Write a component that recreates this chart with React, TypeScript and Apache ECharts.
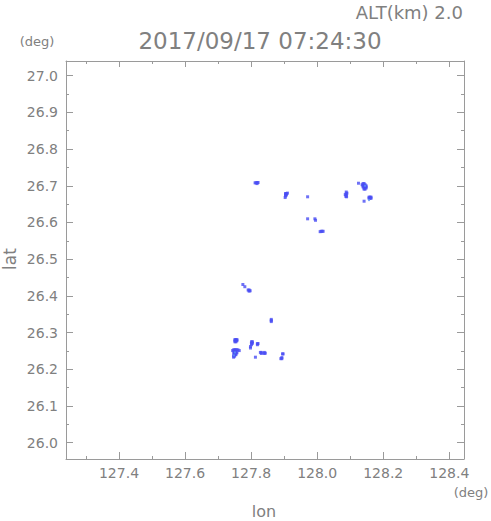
import React, { useEffect, useRef } from "react";
import * as echarts from "echarts";

const LON_MIN = 127.2395;
const LON_MAX = 128.4445;
const LAT_MIN = 25.9556;
const LAT_MAX = 27.04;

const lonMajor = [127.4, 127.6, 127.8, 128.0, 128.2, 128.4];
const lonMinor = [127.3, 127.5, 127.7, 127.9, 128.1, 128.3];
const latMajor = [26.0, 26.1, 26.2, 26.3, 26.4, 26.5, 26.6, 26.7, 26.8, 26.9, 27.0];
const latMinor = [26.05, 26.15, 26.25, 26.35, 26.45, 26.55, 26.65, 26.75, 26.85, 26.95];

const titleText = "2017/09/17 07:24:30";
const altText = "ALT(km) 2.0";

// echo pixels (lon, lat)
const echoMain: number[][] = [
  [127.812, 26.708], [127.815, 26.708], [127.818, 26.709], [127.821, 26.709], [127.818, 26.706],
  [127.904, 26.679], [127.907, 26.679], [127.910, 26.680], [127.904, 26.676], [127.907, 26.675],
  [127.904, 26.672], [127.903, 26.668],
  [127.971, 26.670],
  [128.085, 26.676], [128.088, 26.678], [128.088, 26.674], [128.090, 26.680], [128.087, 26.671],
  [128.089, 26.670], [128.088, 26.683],
  [128.136, 26.703], [128.139, 26.706], [128.142, 26.706], [128.145, 26.703], [128.148, 26.700],
  [128.139, 26.700], [128.142, 26.700], [128.145, 26.697], [128.148, 26.694], [128.142, 26.694],
  [128.145, 26.691], [128.139, 26.697], [128.142, 26.691], [128.148, 26.697],
  [128.125, 26.707],
  [128.157, 26.669], [128.160, 26.669], [128.163, 26.669], [128.157, 26.666], [128.163, 26.666],
  [128.160, 26.666],
  [128.142, 26.658],
  [127.971, 26.610], [127.993, 26.610], [127.995, 26.606],
  [128.009, 26.575], [128.012, 26.576], [128.015, 26.576], [128.018, 26.576],
  [127.775, 26.431], [127.781, 26.425],
  [127.791, 26.416], [127.794, 26.416], [127.794, 26.413], [127.797, 26.414],
  [127.861, 26.336], [127.861, 26.333], [127.861, 26.330],
  [127.751, 26.281], [127.754, 26.281], [127.757, 26.281], [127.751, 26.278], [127.754, 26.278],
  [127.757, 26.278], [127.751, 26.275], [127.754, 26.275],
  [127.747, 26.253], [127.750, 26.253], [127.753, 26.253], [127.756, 26.253], [127.760, 26.253],
  [127.764, 26.251], [127.744, 26.251],
  [127.748, 26.248], [127.751, 26.248], [127.754, 26.248],
  [127.748, 26.244], [127.751, 26.244], [127.754, 26.244], [127.757, 26.245],
  [127.748, 26.240], [127.751, 26.240], [127.754, 26.240],
  [127.747, 26.236], [127.750, 26.236], [127.747, 26.233],
  [127.801, 26.275], [127.804, 26.275], [127.801, 26.271], [127.804, 26.271], [127.801, 26.267],
  [127.819, 26.270], [127.821, 26.270], [127.819, 26.267],
  [127.798, 26.262], [127.798, 26.258],
  [127.828, 26.246], [127.831, 26.246], [127.831, 26.243],
  [127.840, 26.246], [127.840, 26.243], [127.843, 26.244],
  [127.813, 26.233],
  [127.895, 26.242], [127.897, 26.242],
  [127.890, 26.229], [127.893, 26.229], [127.893, 26.232],
];

const echoLight: number[][] = [
  [128.157, 26.661], [128.145, 26.700], [127.751, 26.246], [127.748, 26.238],
];

const AXIS_COLOR = "#9a9a9a";
const LABEL_COLOR = "#808080";
const FONT = "DejaVu Sans";

function tickAxis(kind: "x" | "y", position: string, values: number[], len: number, withLabel: boolean, showLine: boolean) {
  const base: any = {
    type: "value",
    position,
    min: kind === "x" ? LON_MIN : LAT_MIN,
    max: kind === "x" ? LON_MAX : LAT_MAX,
    gridIndex: 0,
    axisLine: { show: showLine, lineStyle: { color: AXIS_COLOR, width: 1 } },
    axisTick: {
      show: true,
      inside: true,
      length: len,
      customValues: values,
      lineStyle: { color: AXIS_COLOR, width: 1 },
    },
    axisLabel: withLabel
      ? {
          show: true,
          customValues: values,
          formatter: (v: number) => v.toFixed(1),
          color: LABEL_COLOR,
          fontSize: 14,
          fontFamily: FONT,
          margin: kind === "x" ? 7 : 8,
        }
      : { show: false },
    splitLine: { show: false },
    minorTick: { show: false },
  };
  return base;
}

export default function App() {
  const ref = useRef<HTMLDivElement>(null);

  useEffect(() => {
    if (!ref.current) return;
    const chart = echarts.init(ref.current, undefined, { renderer: "svg" });
    const textStyle = (size: number) => `${size}px "${FONT}"`;
    chart.setOption({
      animation: false,
      backgroundColor: "#ffffff",
      grid: { left: 66, top: 61, width: 398, height: 398, containLabel: false },
      xAxis: [
        tickAxis("x", "bottom", lonMajor, 7, true, true),
        tickAxis("x", "bottom", lonMinor, 3, false, false),
        tickAxis("x", "top", lonMajor, 6, false, true),
        tickAxis("x", "top", lonMinor, 3, false, false),
      ],
      yAxis: [
        tickAxis("y", "left", latMajor, 7, true, true),
        tickAxis("y", "left", latMinor, 3, false, false),
        tickAxis("y", "right", latMajor, 7, false, true),
        tickAxis("y", "right", latMinor, 3, false, false),
      ],
      series: [
        {
          type: "scatter",
          xAxisIndex: 0,
          yAxisIndex: 0,
          data: echoMain,
          symbol: "rect",
          symbolSize: [3, 3],
          itemStyle: { color: "#4a4ef4" },
          silent: true,
        },
        {
          type: "scatter",
          xAxisIndex: 0,
          yAxisIndex: 0,
          data: echoLight,
          symbol: "rect",
          symbolSize: [2, 2],
          itemStyle: { color: "#5d93f6" },
          silent: true,
        },
      ],
      graphic: [
        {
          type: "text",
          x: 463,
          y: 12,
          style: { text: altText, fill: LABEL_COLOR, font: textStyle(18), align: "right", verticalAlign: "middle" },
        },
        {
          type: "text",
          x: 260,
          y: 41,
          style: { text: titleText, fill: LABEL_COLOR, font: textStyle(23), align: "center", verticalAlign: "middle" },
        },
        {
          type: "text",
          x: 37,
          y: 41,
          style: { text: "(deg)", fill: LABEL_COLOR, font: textStyle(13), align: "center", verticalAlign: "middle" },
        },
        {
          type: "text",
          x: 471,
          y: 492,
          style: { text: "(deg)", fill: LABEL_COLOR, font: textStyle(13), align: "center", verticalAlign: "middle" },
        },
        {
          type: "text",
          x: 264,
          y: 511,
          style: { text: "lon", fill: LABEL_COLOR, font: textStyle(16), align: "center", verticalAlign: "middle" },
        },
        {
          type: "text",
          x: 10,
          y: 259,
          rotation: Math.PI / 2,
          style: { text: "lat", fill: LABEL_COLOR, font: textStyle(17), align: "center", verticalAlign: "middle" },
        },
      ],
    });
    return () => chart.dispose();
  }, []);

  return (
    <div
      ref={ref}
      style={{ position: "absolute", left: 0, top: 0, width: 491, height: 521, background: "#fff" }}
    />
  );
}
